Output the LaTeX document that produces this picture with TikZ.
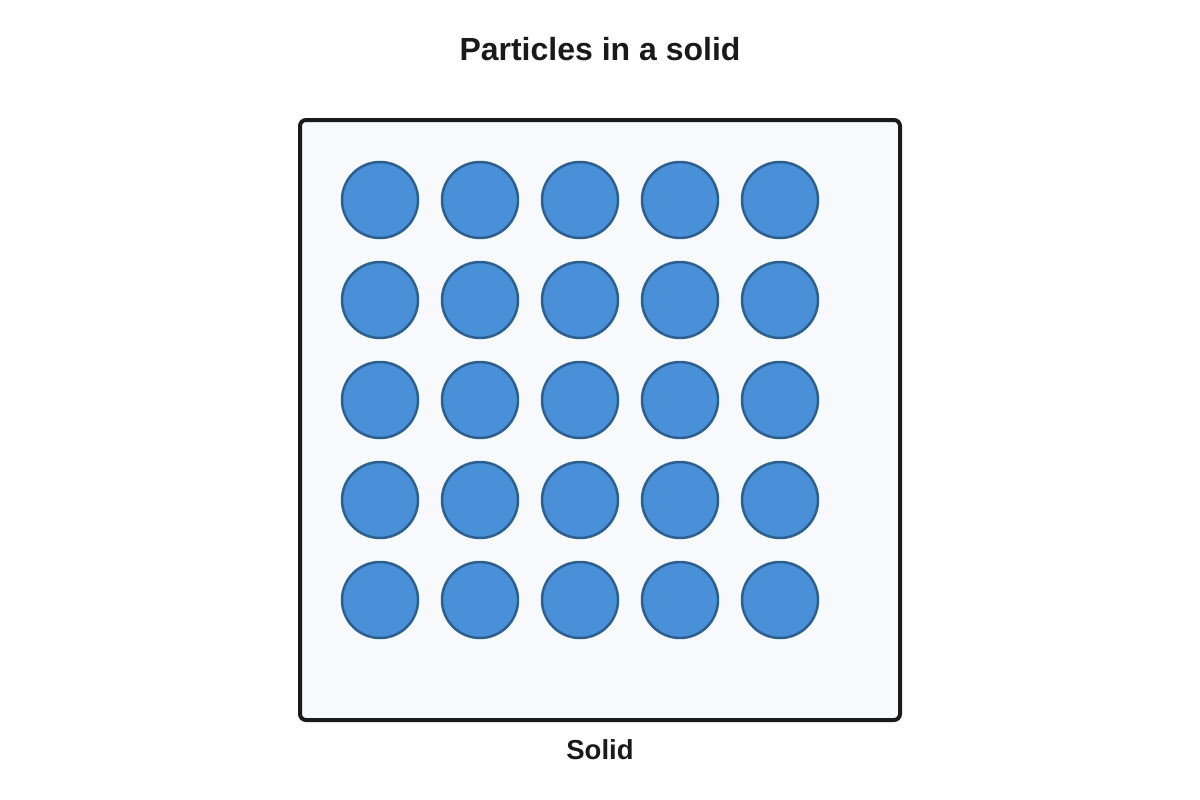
\documentclass[tikz,border=0pt]{standalone}
\usepackage{fontspec}
\setmainfont{Liberation Sans}
\definecolor{boxfill}{HTML}{F8F9FB}
\definecolor{boxline}{HTML}{1A1A1A}
\definecolor{pfill}{HTML}{4A90D9}
\definecolor{pline}{HTML}{2B5F8E}
\definecolor{txt}{HTML}{1A1A1A}
\begin{document}
\begin{tikzpicture}[x=1pt,y=-1pt,
  container/.style={draw=boxline,fill=boxfill,line width=4pt,rounded corners=6pt},
  particle/.style={circle,draw=pline,fill=pfill,line width=2.5pt,minimum size=76pt,inner sep=0pt},
  titletext/.style={text=txt,font=\fontsize{32}{38}\selectfont\bfseries},
  labeltext/.style={text=txt,font=\fontsize{27.5}{33}\selectfont\bfseries}]
\useasboundingbox (0,0) rectangle (1200,800);
\draw[container] (300,120) rectangle (900,720);
\foreach \i in {0,...,4}{
  \foreach \j in {0,...,4}{
    \node[particle] (p\i\j) at ({380+100*\j},{200+100*\i}) {};
  }
}
\node[titletext] (title) at (600,49) {Particles in a solid};
\node[labeltext] (label) at (600,750) {Solid};
\end{tikzpicture}
\end{document}
